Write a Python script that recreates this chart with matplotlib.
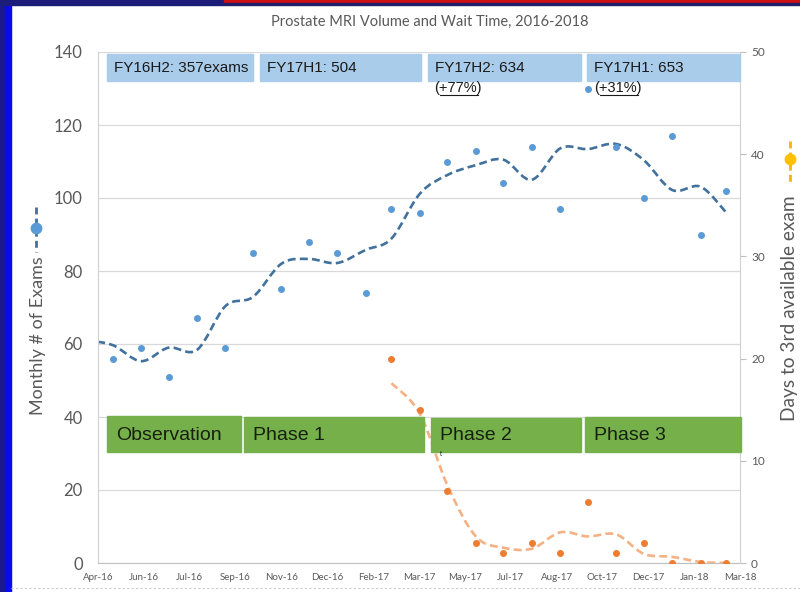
import matplotlib
matplotlib.use('Agg')
import matplotlib.pyplot as plt
import matplotlib.dates as mdates
from matplotlib.path import Path
from matplotlib.patches import PathPatch, Rectangle
from matplotlib.lines import Line2D
import pandas as pd

# ---- data ----
exam_months = pd.date_range('2016-05-01', '2018-03-01', freq='MS')
exams = [56, 59, 51, 67, 59, 85, 75, 88, 85, 74, 97, 96,
         110, 113, 104, 114, 97, 130, 114, 100, 117, 90, 102]

trend_months = pd.date_range('2016-04-01', '2018-03-01', freq='MS')
exams_trend = [61, 59.7, 55.3, 59.0, 58.4, 70.4, 72.9, 82.0, 83.3, 82.2, 85.8, 88.9,
               101.2, 106.3, 109, 110.5, 105, 113.6, 113.4, 114.8, 110.4, 102.2, 103.1, 96]

wait_months = pd.date_range('2017-03-01', '2018-03-01', freq='MS')
wait_days = [20, 15, 7, 2, 1, 2, 1, 6, 1, 2, 0, 0, 0]
wait_trend = [17.6, 14.6, 7.6, 2.6, 1.5, 1.4, 3.0, 2.6, 2.8, 0.9, 0.6, 0.1, 0]

half_labels = ['FY16H2: 357exams', 'FY17H1: 504', 'FY17H2: 634', 'FY17H1: 653']
growth_labels = ['+77%', '+31%']
phase_labels = ['Observation', 'Phase 1', 'Phase 2', 'Phase 3']

axis_start = pd.Timestamp('2016-04-15')
axis_days = 700
tick_step = 50

W, H = 800, 592
GREY = '#595959'


def fx(x):
    return x / W


def fy(y):
    return 1 - y / H


def dnum(dates):
    return [mdates.date2num(d) for d in pd.to_datetime(dates).to_pydatetime()]


def smooth_path(xs, ys):
    # Excel style smoothed line: Catmull-Rom segments as cubic Bezier curves
    verts = [(xs[0], ys[0])]
    codes = [Path.MOVETO]
    n = len(xs)
    for i in range(n - 1):
        xa, ya = (xs[i - 1], ys[i - 1]) if i > 0 else (xs[i], ys[i])
        xb, yb = (xs[i + 2], ys[i + 2]) if i + 2 < n else (xs[i + 1], ys[i + 1])
        c1 = (xs[i] + (xs[i + 1] - xa) / 6, ys[i] + (ys[i + 1] - ya) / 6)
        c2 = (xs[i + 1] - (xb - xs[i]) / 6, ys[i + 1] - (yb - ys[i]) / 6)
        verts += [c1, c2, (xs[i + 1], ys[i + 1])]
        codes += [Path.CURVE4] * 3
    return Path(verts, codes)


plt.rcParams['font.family'] = ['Lato', 'DejaVu Sans']

fig = plt.figure(figsize=(8, 5.92), dpi=100)
fig.patch.set_facecolor('white')

ax = fig.add_axes([fx(98), fy(563), fx(740) - fx(98), fy(52) - fy(563)])
ax2 = ax.twinx()

# exams (left axis)
ex_x = dnum(exam_months)
ax.plot(ex_x, exams, 'o', ls='none', ms=4.0, color='#5B9BD5', zorder=3)
tr_x = dnum(trend_months)
ax.add_patch(PathPatch(smooth_path(tr_x, exams_trend), fill=False, ec='#41719C',
                       lw=1.9, ls=(0, (3, 1.6)), zorder=2))

# wait time (right axis)
wt_x = dnum(wait_months)
ax2.plot(wt_x, wait_days, 'o', ls='none', ms=4.0, color='#ED7D31', zorder=3)
ax2.add_patch(PathPatch(smooth_path(wt_x, wait_trend), fill=False, ec='#F4B183',
                        lw=1.9, ls=(0, (3, 1.6)), zorder=2))

x0 = mdates.date2num(axis_start.to_pydatetime())
ax.set_xlim(x0, x0 + axis_days)
ticks = pd.date_range(axis_start, periods=axis_days // tick_step + 1, freq=f'{tick_step}D')
ax.set_xticks(dnum(ticks))
ax.set_xticklabels([t.strftime('%b-%y') for t in ticks])

ax.set_ylim(0, 140)
ax.set_yticks(range(0, 141, 20))
ax2.set_ylim(0, 50)
ax2.set_yticks(range(0, 51, 10))

ax.yaxis.grid(True, color='#D9D9D9', lw=0.9)
ax.set_axisbelow(True)
for s in ['top', 'right']:
    ax.spines[s].set_visible(False)
ax.spines['left'].set_color('#D0D0D0')
ax.spines['bottom'].set_color('#BFBFBF')
for s in ['top', 'left', 'bottom']:
    ax2.spines[s].set_visible(False)
ax2.spines['right'].set_color('#D0D0D0')

ax.tick_params(axis='y', length=0, pad=11, labelsize=12, labelcolor=GREY)
ax.tick_params(axis='x', length=0, pad=7, labelsize=7, labelcolor=GREY)
ax2.tick_params(axis='y', length=4, width=0.8, color='#BFBFBF', pad=4,
                labelsize=8.5, labelcolor=GREY)

# axis titles
fig.text(fx(38), fy(336), 'Monthly # of Exams', rotation=90, ha='center', va='center',
         fontsize=13, color=GREY)
fig.text(fx(789), fy(308), 'Days to 3rd available exam', rotation=90, ha='center',
         va='center', fontsize=13.8, color=GREY)
fig.text(fx(430), fy(22), 'Prostate MRI Volume and Wait Time, 2016-2018', ha='center',
         va='center', fontsize=10.5, color=GREY)

# legend keys beside the axis titles
for xk, y_top, y_bot, y_dot, lc, dc in [(36, 207, 252, 228, '#41719C', '#5B9BD5'),
                                         (790, 141, 182, 159, '#F2B800', '#FFC000')]:
    fig.add_artist(Line2D([fx(xk), fx(xk)], [fy(y_top), fy(y_bot)], transform=fig.transFigure,
                          color=lc, lw=2, ls=(0, (2.5, 1.5))))
    fig.add_artist(Line2D([fx(xk)], [fy(y_dot)], transform=fig.transFigure, marker='o',
                          ms=7.5, color=dc, ls='none'))

# half-year boxes
half_boxes = [(107, 253), (260, 421), (428, 581), (587, 740)]
for (a, b), lab in zip(half_boxes, half_labels):
    fig.add_artist(Rectangle((fx(a), fy(81)), fx(b) - fx(a), fy(54) - fy(81),
                             transform=fig.transFigure, color='#A9CCEA', zorder=5))
    fig.text(fx(a + 7), fy(68), lab, ha='left', va='center', fontsize=11,
             family='Liberation Sans', color='#1A1A1A', zorder=6)

for xg, lab in zip([434, 594], growth_labels):
    fig.text(fx(xg), fy(88), f'({lab})', ha='left', va='center', fontsize=10.5,
             family='Liberation Sans', color='#1A1A1A', zorder=6)
    fig.add_artist(Line2D([fx(xg + 6), fx(xg + 44)], [fy(95), fy(95)],
                          transform=fig.transFigure, color='#1A1A1A', lw=0.8, zorder=6))

# phase boxes
phase_boxes = [(107, 241, 416), (244, 424, 417), (431, 581, 418), (585, 741, 417)]
for (a, b, top), lab in zip(phase_boxes, phase_labels):
    fig.add_artist(Rectangle((fx(a), fy(452)), fx(b) - fx(a), fy(top) - fy(452),
                             transform=fig.transFigure, color='#76B04A', zorder=5))
    fig.text(fx(a + 9), fy(436), lab, ha='left', va='center', fontsize=14,
             family='Liberation Sans', color='#16200F', zorder=6)
fig.text(fx(441), fy(455), 't', ha='center', va='center', fontsize=5,
         family='Liberation Sans', color='#222222', zorder=6)

# slide frame
fig.add_artist(Rectangle((0, 0), fx(5), 1, transform=fig.transFigure, color='#1A1A8C', zorder=7))
fig.add_artist(Rectangle((fx(5), 0), fx(6), 1, transform=fig.transFigure, color='#0A0AF0', zorder=7))
fig.add_artist(Rectangle((0, fy(5)), fx(224), fy(0) - fy(5), transform=fig.transFigure,
                         color='#1C1C7A', zorder=7))
fig.add_artist(Rectangle((fx(224), fy(3)), 1 - fx(224), fy(0) - fy(3), transform=fig.transFigure,
                         color='#D01010', zorder=7))
fig.add_artist(Rectangle((fx(224), fy(5)), 1 - fx(224), fy(3) - fy(5), transform=fig.transFigure,
                         color='#20206A', zorder=7))
fig.add_artist(Line2D([fx(11), 1], [fy(588), fy(588)], transform=fig.transFigure,
                      color='#CCCCCC', lw=0.8, ls=(0, (2, 2)), zorder=7))

plt.savefig('out.png', dpi=100)
